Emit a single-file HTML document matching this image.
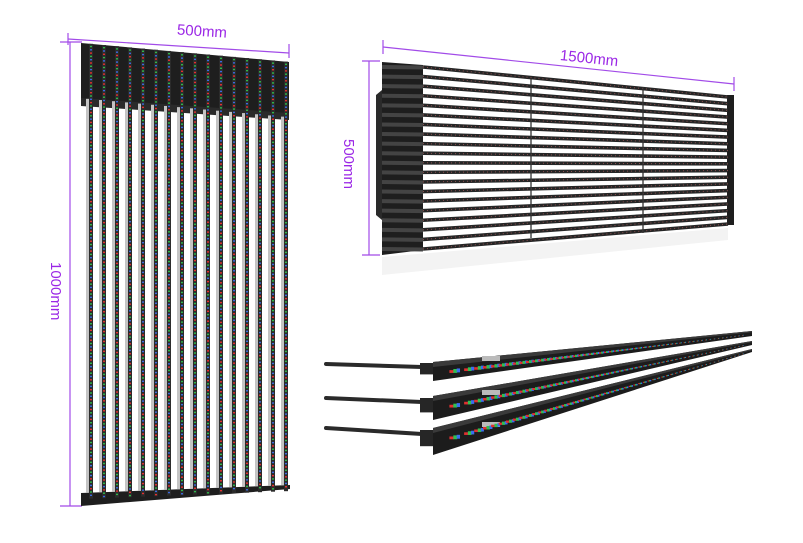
<!DOCTYPE html>
<html><head><meta charset="utf-8"><style>
html,body{margin:0;padding:0;background:#fff;}
svg{display:block;}
text{font-family:"Liberation Sans",sans-serif;fill:#9b27e6;font-size:15px;}
</style></head><body>
<svg id="s" width="803" height="543" viewBox="0 0 803 543" xmlns="http://www.w3.org/2000/svg">
<g stroke="#a24be8" stroke-width="1.2" fill="none">
<line x1="68" y1="39" x2="289" y2="53"/>
<line x1="68" y1="33" x2="68" y2="45"/>
<line x1="289" y1="44" x2="289" y2="58"/>
<line x1="70" y1="42" x2="70" y2="506"/>
<line x1="60" y1="42" x2="82" y2="42"/>
<line x1="60" y1="506" x2="82" y2="506"/>
<line x1="383" y1="47" x2="734" y2="84"/>
<line x1="383" y1="40" x2="383" y2="54"/>
<line x1="734" y1="77" x2="734" y2="91"/>
<line x1="369" y1="61" x2="369" y2="255"/>
<line x1="362" y1="61" x2="380" y2="61"/>
<line x1="362" y1="255" x2="380" y2="255"/>
</g>
<text x="177" y="36" transform="rotate(3.6 200 31)">500mm</text>
<text x="560" y="63" transform="rotate(6 588 58)">1500mm</text>
<text x="0" y="0" transform="translate(51 262) rotate(90)">1000mm</text>
<text x="0" y="0" transform="translate(344 139) rotate(90)">500mm</text>
<g id="left"></g>
<g id="right"></g>
<g id="bars"></g>
</svg>
<script>
const NS="http://www.w3.org/2000/svg";
function el(p,t,a){const e=document.createElementNS(NS,t);for(const k in a)e.setAttribute(k,a[k]);p.appendChild(e);return e;}
const L=document.getElementById('left');
el(L,'polygon',{points:"81,43 289,62 289,118 81,103",fill:"#1e1e1e"});
el(L,'polygon',{points:"81,98 289,113 289,120 81,106",fill:"#2a2a2a"});
el(L,'polygon',{points:"81,493 290,485 290,489 81,506",fill:"#1e1e1e"});
const cols=["#e53030","#2fb84a","#3b6be0"];
for(let i=0;i<16;i++){
 const x=90+i*13;
 const ytop=43+(x-81)*19/208;
 const ybot=493-(x-81)*8/209;
 el(L,'rect',{x:x-4,y:ytop+55,width:4,height:ybot-ytop-55,fill:"#c4c4c4"});
 el(L,'rect',{x:x-1,y:ytop,width:4,height:ybot-ytop+6,fill:"#2b2b2b"});
 for(let y=ytop+2;y<ybot+4;y+=3.3){
  el(L,'rect',{x:x,y:y,width:2,height:1.4,fill:cols[Math.round((y-ytop)/3.3)%3]});
 }
}
const R=document.getElementById('right');
el(R,'polygon',{points:"382,62 423,65 423,250 382,255",fill:"#1e1e1e"});
el(R,'polygon',{points:"376,95 382,90 382,220 376,215",fill:"#2a2a2a"});
el(R,'rect',{x:727,y:95,width:7,height:130,fill:"#1e1e1e"});
el(R,'polygon',{points:"382,257 728,228 728,240 382,275",fill:"#f3f3f3"});
for(let i=0;i<20;i++){
 const t=i/19;
 const yl=67+t*182, yr=97+t*127;
 el(R,'line',{x1:382,y1:yl,x2:423,y2:yl+0.5,stroke:"#444","stroke-width":4});
 el(R,'line',{x1:423,y1:yl,x2:728,y2:yr,stroke:"#262626","stroke-width":3.6});
 el(R,'line',{x1:423,y1:yl,x2:728,y2:yr,stroke:"#8a5050","stroke-width":1,"stroke-dasharray":"1 3"});
}
el(R,'line',{x1:531,y1:79,x2:531,y2:238,stroke:"#333","stroke-width":1.3});
el(R,'line',{x1:643,y1:87,x2:643,y2:233,stroke:"#333","stroke-width":1.3});
const B=document.getElementById('bars');
const bars=[
 {cy1:364,cy2:367,top:362,bot:381,rt:331,rb:336},
 {cy1:398,cy2:402,top:396,bot:420,rt:341,rb:345},
 {cy1:428,cy2:434,top:428,bot:455,rt:349,rb:352}];
bars.forEach(b=>{
 el(B,'line',{x1:326,y1:b.cy1,x2:422,y2:b.cy2,stroke:"#2a2a2a","stroke-width":4,"stroke-linecap":"round"});
 el(B,'rect',{x:420,y:b.cy2-4,width:14,height:(b.bot-b.top)*0.6,fill:"#262626"});
 el(B,'polygon',{points:`433,${b.top} 752,${b.rt} 752,${b.rb} 433,${b.bot}`,fill:"#1c1c1c"});
 el(B,'polygon',{points:`433,${b.top} 752,${b.rt} 752,${b.rt+1.2} 433,${b.top+5}`,fill:"#3a3a3a"});
 el(B,'rect',{x:482,y:b.top-6,width:18,height:5,fill:"#bbb"});
 for(let k=0;k<55;k++){
  const t=Math.pow(k/55,0.75);
  const x=455+t*292;
  const f=(x-433)/319;
  const yt=b.top+5+(b.rt+1-b.top-5)*f, yb=b.bot+(b.rb-b.bot)*f;
  const ym=(yt+yb)/2, w=Math.max(1.5,12*(1-f));
  el(B,'rect',{x:x-w/2,y:ym-w*0.1,width:w*0.4,height:Math.max(1,w*0.25),fill:"#e03030"});
  el(B,'rect',{x:x-w/2+w*0.35,y:ym-w*0.2,width:w*0.35,height:Math.max(1,w*0.35),fill:"#30c050"});
  el(B,'rect',{x:x-w/2+w*0.65,y:ym-w*0.25,width:w*0.3,height:Math.max(1,w*0.35),fill:"#3a6ef0"});
 }
});
</script>
</body></html>
